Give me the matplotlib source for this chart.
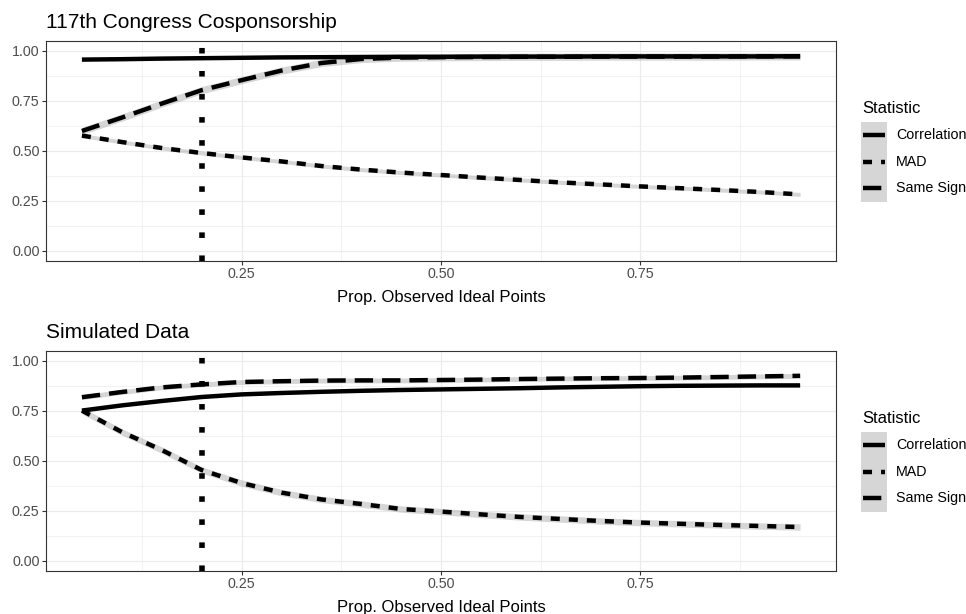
import matplotlib
matplotlib.use("Agg")
import matplotlib.pyplot as plt
from matplotlib.lines import Line2D
from matplotlib.patches import Rectangle
import numpy as np

plt.rcParams['font.family'] = ['Liberation Sans', 'DejaVu Sans']
plt.rcParams['lines.scale_dashes'] = False  # dash lengths given in points

W, H, DPI = 966, 614, 100

# x = proportion of observed ideal points
prop_observed = [0.05, 0.10, 0.15, 0.20, 0.25, 0.30, 0.35, 0.40, 0.45, 0.50,
                 0.55, 0.60, 0.65, 0.70, 0.75, 0.80, 0.85, 0.90, 0.95]

# 117th Congress cosponsorship
congress_correlation = [0.957, 0.959, 0.962, 0.964, 0.966, 0.968, 0.969, 0.970, 0.971, 0.971,
                        0.972, 0.972, 0.972, 0.973, 0.973, 0.973, 0.973, 0.973, 0.974]
congress_mad = [0.577, 0.545, 0.515, 0.490, 0.468, 0.448, 0.425, 0.407, 0.392, 0.380,
                0.367, 0.355, 0.343, 0.333, 0.323, 0.314, 0.305, 0.295, 0.283]
congress_same_sign = [0.600, 0.667, 0.737, 0.804, 0.854, 0.902, 0.940, 0.960, 0.967, 0.969,
                      0.970, 0.971, 0.971, 0.972, 0.972, 0.972, 0.972, 0.973, 0.973]

# simulated data
sim_correlation = [0.752, 0.778, 0.800, 0.820, 0.833, 0.840, 0.846, 0.851, 0.855, 0.858,
                   0.861, 0.864, 0.868, 0.871, 0.874, 0.876, 0.877, 0.878, 0.878]
sim_mad = [0.752, 0.645, 0.555, 0.455, 0.390, 0.342, 0.308, 0.285, 0.260, 0.247,
           0.233, 0.220, 0.210, 0.200, 0.192, 0.186, 0.180, 0.175, 0.170]
sim_same_sign = [0.819, 0.845, 0.868, 0.883, 0.895, 0.899, 0.902, 0.903, 0.903, 0.905,
                 0.907, 0.910, 0.912, 0.914, 0.915, 0.917, 0.920, 0.923, 0.926]

# half width of the smoothing bands
congress_band = {'Correlation': 0.005, 'MAD': 0.010, 'Same Sign': 0.018}
sim_band = {'Correlation': 0.006, 'MAD': 0.016, 'Same Sign': 0.012}

statistics = ['Correlation', 'MAD', 'Same Sign']
titles = ['117th Congress Cosponsorship', 'Simulated Data']
x_ticks = [0.25, 0.50, 0.75]
x_minor = [0.125, 0.375, 0.625, 0.875]
y_ticks = [0.00, 0.25, 0.50, 0.75, 1.00]
y_minor = [0.125, 0.375, 0.625, 0.875]
cutoff = 0.2

panels = [
    {'Correlation': congress_correlation, 'MAD': congress_mad, 'Same Sign': congress_same_sign},
    {'Correlation': sim_correlation, 'MAD': sim_mad, 'Same Sign': sim_same_sign},
]
bands = [congress_band, sim_band]

LW = 3.2
styles = {'Correlation': '-', 'MAD': (0, (6.5, 6.5)), 'Same Sign': (0, (13.2, 6.5))}
BAND_COLOR = '#999999'
KEY_BG = '#D6D6D6'


def fx(px):
    return px / W


def fy(py):
    return 1 - py / H


fig = plt.figure(figsize=(W / DPI, H / DPI), dpi=DPI)

for i, (title, vals, band) in enumerate(zip(titles, panels, bands)):
    off = 310 * i  # pixel shift of the second panel
    ax = fig.add_axes([fx(46), fy(261 + off), fx(836) - fx(46), (220) / H])
    ax.set_xlim(0.005, 0.995)
    ax.set_ylim(-0.05, 1.05)
    ax.set_xticks(x_ticks)
    ax.set_xticklabels(['0.25', '0.50', '0.75'])
    ax.set_xticks(x_minor, minor=True)
    ax.set_yticks(y_ticks)
    ax.set_yticklabels(['0.00', '0.25', '0.50', '0.75', '1.00'])
    ax.set_yticks(y_minor, minor=True)
    ax.tick_params(which='major', length=2.6, width=0.8, color='#333333',
                   labelsize=10.3, labelcolor='#4D4D4D', pad=2.0)
    ax.tick_params(which='minor', length=0)
    ax.grid(which='major', color='#EBEBEB', lw=0.8)
    ax.grid(which='minor', color='#EBEBEB', lw=0.45)
    ax.set_axisbelow(True)
    for s in ax.spines.values():
        s.set_color('#333333')
        s.set_linewidth(0.8)

    for stat in statistics:
        y = np.array(vals[stat])
        b = band[stat]
        ax.fill_between(prop_observed, y - b, y + b, color=BAND_COLOR, alpha=0.4, lw=0)
        ax.plot(prop_observed, y, color='black', lw=LW, linestyle=styles[stat],
                solid_capstyle='butt', dash_capstyle='butt', solid_joinstyle='round')

    ax.axvline(cutoff, color='black', lw=4.0, linestyle=(0, (4.0, 12.6)),
               dash_capstyle='butt')

    fig.text(fx(46), fy(28 + off), title, fontsize=15, ha='left', va='baseline')
    fig.text(fx(441), fy(302 + off), 'Prop. Observed Ideal Points', fontsize=12,
             ha='center', va='baseline')

    # legend drawn by hand, ggplot style
    fig.text(fx(862), fy(113 + off), 'Statistic', fontsize=12, ha='left', va='baseline')
    fig.add_artist(Rectangle((fx(861), fy(202 + off)), fx(887) - fx(861), (80) / H,
                             transform=fig.transFigure, color=KEY_BG, lw=0))
    for k, stat in enumerate(statistics):
        yk = 135 + 26.6 * k + off
        fig.add_artist(Line2D([fx(863), fx(885)], [fy(yk), fy(yk)], transform=fig.transFigure,
                              color='black', lw=LW, linestyle=styles[stat],
                              solid_capstyle='butt', dash_capstyle='butt'))
        fig.text(fx(896), fy(yk), stat, fontsize=10.3, ha='left', va='center')

fig.savefig('out.png', dpi=DPI)
